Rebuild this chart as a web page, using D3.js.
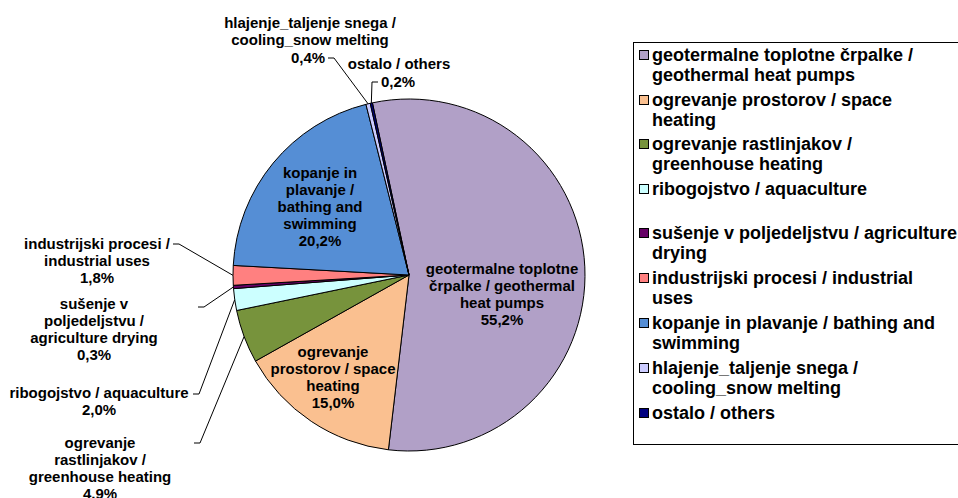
<!DOCTYPE html>
<html>
<head>
<meta charset="utf-8">
<script src="https://cdn.jsdelivr.net/npm/d3@7"></script>
<style>
  body { margin: 0; background: #fff; }
  text { font-family: "Liberation Sans", Arial, sans-serif; font-weight: bold; fill: #000; }
</style>
</head>
<body>
<div id="chart"></div>
<script>
// data
var categories = [
  "geotermalne toplotne črpalke / geothermal heat pumps",
  "ogrevanje prostorov / space heating",
  "ogrevanje rastlinjakov / greenhouse heating",
  "ribogojstvo / aquaculture",
  "sušenje v poljedeljstvu / agriculture drying",
  "industrijski procesi / industrial uses",
  "kopanje in plavanje / bathing and swimming",
  "hlajenje_taljenje snega / cooling_snow melting",
  "ostalo / others"
];
var shares = [55.2, 15.0, 4.9, 2.0, 0.3, 1.8, 20.2, 0.4, 0.2];
var colors = ["#B1A0C7", "#FAC090", "#77933C", "#CCFFFF", "#660066", "#FF8080", "#558ED5", "#CCCCFF", "#000080"];

// wrapped text, as in the original
var legendLines = [
  ["geotermalne toplotne črpalke /", "geothermal heat pumps"],
  ["ogrevanje prostorov / space", "heating"],
  ["ogrevanje rastlinjakov /", "greenhouse heating"],
  ["ribogojstvo / aquaculture"],
  ["sušenje v poljedeljstvu / agriculture", "drying"],
  ["industrijski procesi / industrial", "uses"],
  ["kopanje in plavanje / bathing and", "swimming"],
  ["hlajenje_taljenje snega /", "cooling_snow melting"],
  ["ostalo / others"]
];
var pieLabelLines = [
  ["geotermalne toplotne", "črpalke / geothermal", "heat pumps"],
  ["ogrevanje", "prostorov / space", "heating"],
  ["ogrevanje", "rastlinjakov /", "greenhouse heating"],
  ["ribogojstvo / aquaculture"],
  ["sušenje v", "poljedeljstvu /", "agriculture drying"],
  ["industrijski procesi /", "industrial uses"],
  ["kopanje in", "plavanje /", "bathing and", "swimming"],
  ["hlajenje_taljenje snega /", "cooling_snow melting"],
  ["ostalo / others"]
];

// layout of the data labels (x center, y of first line, leader start)
var labelLayout = [
  {x: 502, y: 268},
  {x: 333, y: 351},
  {x: 100, y: 442, lx: 194, ly: 443},
  {x: 99, y: 392, lx: 193, ly: 394},
  {x: 94, y: 303, lx: 198, ly: 307},
  {x: 97, y: 243, lx: 173, ly: 244},
  {x: 320, y: 172},
  {x: 310, y: 22, pctX: 308, lx: 328, ly: 58},
  {x: 399, y: 63, pctX: 398, lx: 378, ly: 82}
];

var width = 958, height = 498;
var cx = 409, cy = 275, radius = 176;
var lineH = 17;

var svg = d3.select("#chart").append("svg")
    .attr("width", width)
    .attr("height", height);

var pieData = d3.pie()
    .sort(null)
    .value(function(d) { return d; })
    .startAngle(-12 * Math.PI / 180)
    .endAngle(348 * Math.PI / 180)(shares);

var arc = d3.arc().innerRadius(0).outerRadius(radius);
var edgeArc = d3.arc().innerRadius(radius).outerRadius(radius);

var pieG = svg.append("g")
    .attr("transform", "translate(" + cx + "," + cy + ")");

pieG.selectAll("path")
    .data(pieData)
    .enter()
    .append("path")
      .attr("d", arc)
      .attr("fill", function(d, i) { return colors[i]; })
      .attr("stroke", "#000")
      .attr("stroke-width", 1)
      .attr("stroke-linejoin", "round");

var fmt = function(v) { return d3.format(".1f")(v).replace(".", ",") + "%"; };

// leader lines for the small slices
pieData.forEach(function(d, i) {
  var L = labelLayout[i];
  if (L.lx === undefined) return;
  var p = edgeArc.centroid(d);
  var ex = cx + p[0], ey = cy + p[1];
  var dir = ex > L.lx ? 1 : -1;
  svg.append("path")
    .attr("d", d3.line()([[L.lx, L.ly], [L.lx + dir * 6, L.ly], [ex, ey]]))
    .attr("fill", "none")
    .attr("stroke", "#000")
    .attr("stroke-width", 1);
});

// data labels
pieData.forEach(function(d, i) {
  var L = labelLayout[i];
  var lines = pieLabelLines[i].slice();
  var g = svg.append("g");
  lines.forEach(function(t, j) {
    g.append("text")
      .attr("x", L.x)
      .attr("y", L.y + j * lineH)
      .attr("text-anchor", "middle")
      .attr("dominant-baseline", "central")
      .style("font-size", "15px")
      .text(t);
  });
  g.append("text")
    .attr("x", L.pctX !== undefined ? L.pctX : L.x)
    .attr("y", L.y + lines.length * lineH + (L.pctX !== undefined ? 1 : 0))
    .attr("text-anchor", "middle")
    .attr("dominant-baseline", "central")
    .style("font-size", "15px")
    .text(fmt(shares[i]));
});

// legend
var legend = svg.append("g");
legend.append("rect")
    .attr("x", 633.5)
    .attr("y", 42.5)
    .attr("width", 340)
    .attr("height", 402)
    .attr("fill", "#fff")
    .attr("stroke", "#000")
    .attr("stroke-width", 1);

var itemY = [55, 100, 144, 189, 233, 278, 323, 368, 413];
categories.forEach(function(c, i) {
  legend.append("rect")
    .attr("x", 639.5)
    .attr("y", itemY[i] - 4.5)
    .attr("width", 9)
    .attr("height", 9)
    .attr("fill", colors[i])
    .attr("stroke", "#000")
    .attr("stroke-width", 1);
  legendLines[i].forEach(function(t, j) {
    legend.append("text")
      .attr("x", 652)
      .attr("y", itemY[i] + j * 20)
      .attr("dominant-baseline", "central")
      .style("font-size", "18px")
      .text(t);
  });
});
</script>
</body>
</html>
